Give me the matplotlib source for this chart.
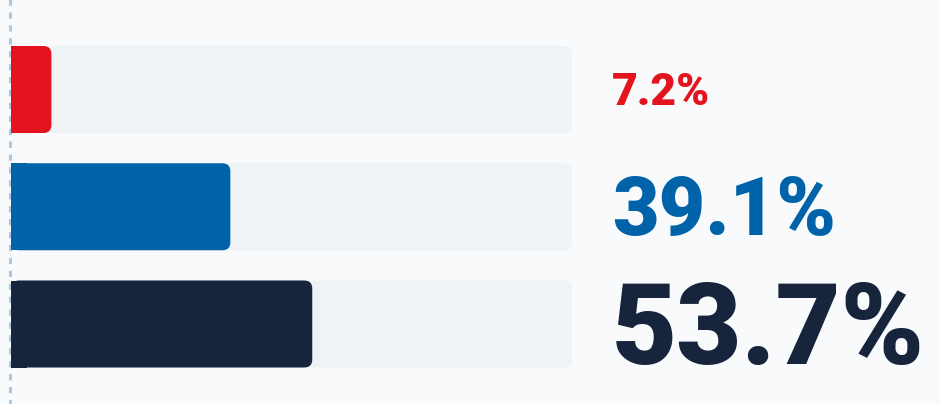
import matplotlib.pyplot as plt
import numpy as np
from matplotlib.patches import FancyBboxPatch, Rectangle

# values in percent, top to bottom
values = [7.2, 39.1, 53.7]
labels = ['7.2%', '39.1%', '53.7%']
colors = ['#E3141E', '#0063AA', '#16243C']
label_sizes = [32, 58, 81]

W, H = 940, 404
fig = plt.figure(figsize=(W / 100, H / 100), dpi=100)
fig.patch.set_facecolor('#F8FAFC')
ax = fig.add_axes([0, 0, 1, 1])
ax.set_facecolor('none')

# scale: track 0..100 spans px 11..572, row spacing 117.25 px
px_x = 5.61
px_y = 117.25
ax.set_xlim(-11 / px_x, (W - 11) / px_x)
ax.set_ylim(2 + (H - 324) / px_y, -89.5 / px_y)
ax.axis('off')

bar_h = 87 / px_y
r = 8 / px_x
aspect = (1 / px_y) / (1 / px_x)

for i, (v, c) in enumerate(zip(values, colors)):
    y0 = i - bar_h / 2
    # background track
    ax.add_patch(FancyBboxPatch((0, y0), 100, bar_h,
                                boxstyle=f'round,pad=0,rounding_size={r}',
                                mutation_aspect=aspect, fc='#F0F3F5', ec='none'))
    # value bar, square on the left, rounded on the right
    ax.add_patch(FancyBboxPatch((0, y0), v, bar_h,
                                boxstyle=f'round,pad=0,rounding_size={r}',
                                mutation_aspect=aspect, fc=c, ec='none', zorder=3))
    ax.add_patch(Rectangle((0, y0), min(v, 2 * r), bar_h, fc=c, ec='none', zorder=3))

# dashed baseline, just left of the bars
plt.rcParams['lines.scale_dashes'] = False
ax.plot([-1.5 / px_x] * 2, [-1, 3], color='#A9C9E6', lw=2.2, dashes=(4.5, 4.8), zorder=2)

text_x = (612 - 11) / px_x
for i, (lab, c, s) in enumerate(zip(labels, colors, label_sizes)):
    ax.annotate(lab, (text_x, i), xytext=(0, -s * 0.71 / 2), textcoords='offset points',
                color=c, fontsize=s, fontfamily='Roboto', fontweight='black',
                ha='left', va='baseline')

fig.savefig('out.png', dpi=100, facecolor=fig.get_facecolor())
